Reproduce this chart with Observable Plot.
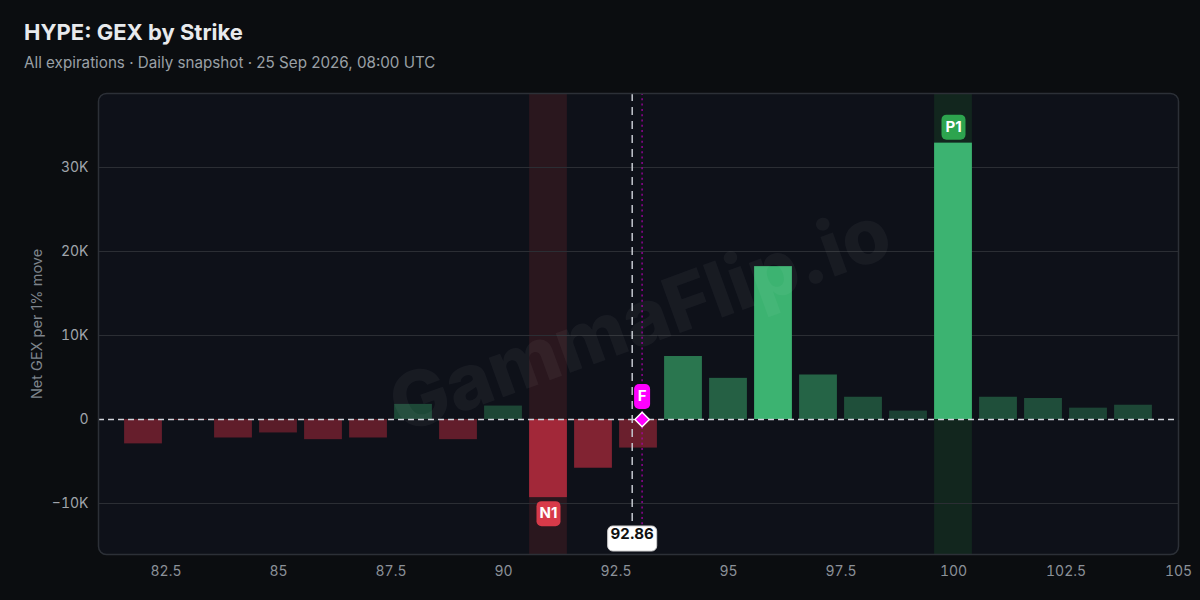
<!DOCTYPE html>
<html>
<head>
<meta charset="utf-8">
<script src="https://cdn.jsdelivr.net/npm/d3@7"></script>
<script src="https://cdn.jsdelivr.net/npm/@observablehq/plot@0.6"></script>
<style>
  html, body { margin: 0; padding: 0; background: #0b0d10; }
  body { width: 1200px; height: 600px; overflow: hidden; font-family: Inter, "Noto Sans", sans-serif; }
  #hdr { position: relative; height: 90px; }
  #title { position: absolute; left: 24px; top: 19px; font-size: 22px; font-weight: 700; color: #e8eaed; white-space: nowrap; }
  #sub { position: absolute; left: 24px; top: 53px; font-size: 15.2px; font-weight: 400; color: #9aa0a6; white-space: nowrap; }
  #chart svg { display: block; }
</style>
</head>
<body>
<div id="hdr">
  <div id="title">HYPE: GEX by Strike</div>
  <div id="sub">All expirations · Daily snapshot · 25 Sep 2026, 08:00 UTC</div>
</div>
<div id="chart"></div>
<script>
// ---- data ----
const strikes = [82, 83, 84, 85, 86, 87, 88, 89, 90, 91, 92, 93, 94, 95, 96, 97, 98, 99, 100, 101, 102, 103, 104];
const gex = [-2900, -120, -2200, -1600, -2400, -2200, 1800, -2400, 1600, -9300, -5800, -3400, 7500, 4900, 18200, 5300, 2650, 1000, 32900, 2650, 2500, 1350, 1700];
const levelLabels = ["N1", "P1"];
const levelStrikes = [91, 100];
const spotPrice = 92.86;
const flipLevel = 93.08;
const flipLabel = "F";
const xTicks = [82.5, 85, 87.5, 90, 92.5, 95, 97.5, 100, 102.5, 105];
const yTicks = [-10000, 0, 10000, 20000, 30000];
const yLabel = "Net GEX per 1% move";
const watermark = "GammaFlip.io";

const bars = strikes.map((s, i) => ({strike: s, gex: gex[i]}));
const levels = levelLabels.map((l, i) => ({label: l, strike: levelStrikes[i], gex: gex[strikes.indexOf(levelStrikes[i])]}));
const halfW = 0.42;

// text mark with a rounded box behind each label
function boxed(data, opts, box) {
  return Plot.text(data, {
    ...opts,
    render(index, scales, values, dimensions, context, next) {
      const g = next(index, scales, values, dimensions, context);
      const texts = g.querySelectorAll("text");
      const ns = "http://www.w3.org/2000/svg";
      index.forEach((i, k) => {
        const t = texts[k];
        const str = t.textContent;
        const cx = values.x ? values.x[i] : (dimensions.marginLeft + (dimensions.width - dimensions.marginLeft - dimensions.marginRight) / 2);
        const cy = values.y ? values.y[i] : (box.anchorBottom ? dimensions.height - dimensions.marginBottom : dimensions.marginTop);
        const w = box.w ? box.w : str.length * 9 + 6;
        const h = box.h;
        const r = document.createElementNS(ns, "rect");
        r.setAttribute("x", cx - w / 2);
        r.setAttribute("y", cy - h / 2);
        r.setAttribute("width", w);
        r.setAttribute("height", h);
        r.setAttribute("rx", 5);
        r.setAttribute("fill", box.fill);
        if (box.stroke) { r.setAttribute("stroke", box.stroke); r.setAttribute("stroke-width", 1); }
        t.parentNode.insertBefore(r, t);
      });
      return g;
    }
  });
}

const kfmt = d => d === 0 ? "0" : (d < 0 ? "\u2212" : "") + Math.abs(d / 1000) + "K";

const chart = Plot.plot({
  width: 1200,
  height: 510,
  marginLeft: 98,
  marginRight: 22,
  marginTop: 3,
  marginBottom: 46,
  style: {background: "transparent", fontFamily: "Inter, 'Noto Sans', sans-serif", overflow: "visible"},
  x: {domain: [81, 105]},
  y: {domain: [-16070, 38810]},
  marks: [
    Plot.frame({fill: "#0e1119", rx: 8}),
    Plot.rect(levels, {x1: d => d.strike - halfW, x2: d => d.strike + halfW, fill: d => d.gex < 0 ? "#2a171e" : "#12261e"}),
    Plot.ruleY(yTicks.filter(d => d !== 0), {stroke: "#2b2e34", strokeWidth: 1}),
    Plot.rectY(bars, {
      x1: d => d.strike - halfW, x2: d => d.strike + halfW, y: "gex",
      fill: d => d.gex >= 0 ? "#3cb371" : "#a8293b",
      fillOpacity: d => d.gex >= 0 ? Math.min(1, 0.25 + 0.05 * d.gex / 1000) : Math.min(1, 0.40 + 0.06 * Math.abs(d.gex) / 1000)
    }),
    Plot.text([watermark], {frameAnchor: "middle", dx: 2, dy: -3, rotate: -20, fontSize: 77, fontWeight: 800, fill: "#ffffff", fillOpacity: 0.045}),
    Plot.ruleX([spotPrice], {stroke: "#c4c8ce", strokeWidth: 1.5, strokeDasharray: "8,6"}),
    Plot.ruleX([flipLevel], {stroke: "#b000b0", strokeWidth: 1.5, strokeDasharray: "2,3.3", strokeOpacity: 0.8}),
    Plot.ruleY([0], {stroke: "#d0d4da", strokeWidth: 1.5, strokeDasharray: "6,4"}),
    Plot.dot([flipLevel], {x: d => d, y: () => 0, symbol: "diamond2", r: 6.5, fill: "#ff00ff", stroke: "#ffffff", strokeWidth: 1.5}),
    boxed(levels.filter(d => d.gex < 0), {x: "strike", y: "gex", text: "label", dy: 16, fill: "#ffffff", fontSize: 15, fontWeight: 700}, {fill: "#d73a49", h: 25}),
    boxed(levels.filter(d => d.gex >= 0), {x: "strike", y: "gex", text: "label", dy: -16, fill: "#ffffff", fontSize: 15, fontWeight: 700}, {fill: "#2da44e", h: 25}),
    boxed([flipLevel], {x: d => d, y: () => 0, text: () => flipLabel, dy: -23, fill: "#ffffff", fontSize: 15, fontWeight: 700}, {fill: "#ff00ff", h: 25, w: 16}),
    boxed([spotPrice], {x: d => d, text: d => d.toFixed(2), frameAnchor: "bottom", dy: -16, fill: "#111111", fontSize: 15, fontWeight: 700}, {fill: "#ffffff", stroke: "#d0d0d0", h: 25, w: 49, anchorBottom: true}),
    Plot.axisX(xTicks, {tickSize: 0, tickPadding: 12, fontSize: 14, fill: "#8b9199", tickFormat: d => String(d), label: null}),
    Plot.axisY(yTicks, {tickSize: 0, tickPadding: 10, fontSize: 14, fill: "#a0a5ac", tickFormat: kfmt, label: null}),
    Plot.text([yLabel], {frameAnchor: "left", dx: -61, rotate: -90, textAnchor: "middle", fontSize: 14.5, fill: "#7e848c"}),
    Plot.frame({stroke: "#2c3037", strokeWidth: 1.5, rx: 8})
  ]
});
document.getElementById("chart").appendChild(chart);
</script>
</body>
</html>
